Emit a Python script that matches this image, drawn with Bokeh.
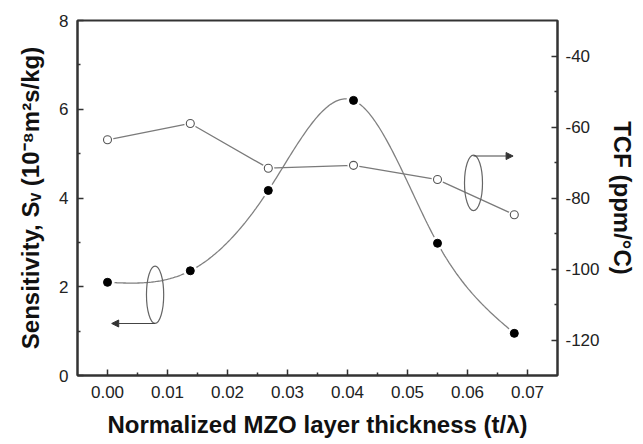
import numpy as np
from bokeh.plotting import figure
from bokeh.models import (Range1d, LinearAxis, FixedTicker, PrintfTickFormatter,
                          Arrow, NormalHead)
from bokeh.embed import file_html
from bokeh.resources import INLINE

# ---- data ----
thickness = [0.0, 0.0138, 0.0268, 0.041, 0.055, 0.0678]          # t/lambda
sensitivity = [2.10, 2.36, 4.17, 6.20, 2.98, 0.95]               # 1e-8 m^2 s/kg (left axis)
tcf = [-63.6, -59.0, -71.6, -70.8, -74.8, -84.7]                 # ppm/°C (right axis)

x_ticks = [0.0, 0.01, 0.02, 0.03, 0.04, 0.05, 0.06, 0.07]
x_minor = [0.005, 0.015, 0.025, 0.035, 0.045, 0.055, 0.065]
y_ticks = [0, 2, 4, 6, 8]
y_minor = [1, 3, 5, 7]
tcf_ticks = [-120, -100, -80, -60, -40]
tcf_minor = [-110, -90, -70, -50]

# annotation (axis-pointer ellipses and arrows), in left-axis data units
ell_left = dict(x=0.00793, y=1.82, w=0.00287, h=1.29)
ell_right = dict(x=0.0610, y=4.34, w=0.00300, h=1.25)
arrow_left = dict(x0=0.00793, x1=0.00070, y=1.172)
arrow_right = dict(x0=0.0610, x1=0.0676, y=4.946)


def natural_cubic(xs, ys, num=300):
    xs = np.asarray(xs, float)
    ys = np.asarray(ys, float)
    n = len(xs)
    h = np.diff(xs)
    A = np.zeros((n, n))
    b = np.zeros(n)
    A[0, 0] = 1.0
    A[-1, -1] = 1.0
    for i in range(1, n - 1):
        A[i, i - 1] = h[i - 1]
        A[i, i] = 2 * (h[i - 1] + h[i])
        A[i, i + 1] = h[i]
        b[i] = 6 * ((ys[i + 1] - ys[i]) / h[i] - (ys[i] - ys[i - 1]) / h[i - 1])
    M = np.linalg.solve(A, b)
    xx = np.linspace(xs[0], xs[-1], num)
    idx = np.clip(np.searchsorted(xs, xx) - 1, 0, n - 2)
    x0 = xs[idx]
    x1 = xs[idx + 1]
    hh = x1 - x0
    t1 = x1 - xx
    t0 = xx - x0
    yy = (M[idx] * t1 ** 3 / (6 * hh) + M[idx + 1] * t0 ** 3 / (6 * hh)
          + (ys[idx] / hh - M[idx] * hh / 6) * t1
          + (ys[idx + 1] / hh - M[idx + 1] * hh / 6) * t0)
    return xx, yy


FONT = "Liberation Sans"
AX = "#333333"

p = figure(width=643, height=444, output_backend="svg", toolbar_location=None,
           x_range=Range1d(-0.005, 0.075), y_range=Range1d(0, 8),
           min_border_left=77, min_border_right=86, min_border_top=20,
           min_border_bottom=69)
p.extra_y_ranges = {"tcf": Range1d(-130, -30)}
p.xgrid.visible = False
p.ygrid.visible = False
p.outline_line_color = AX
p.outline_line_width = 2
p.background_fill_color = "white"
p.border_fill_color = "white"

right = LinearAxis(y_range_name="tcf")
p.add_layout(right, "right")

p.xaxis.ticker = FixedTicker(ticks=x_ticks, minor_ticks=x_minor)
p.xaxis.formatter = PrintfTickFormatter(format="%.2f")
p.yaxis[0].ticker = FixedTicker(ticks=y_ticks, minor_ticks=y_minor)
p.yaxis[0].formatter = PrintfTickFormatter(format="%d")
right.ticker = FixedTicker(ticks=tcf_ticks, minor_ticks=tcf_minor)
right.formatter = PrintfTickFormatter(format="%d")

for ax in [p.xaxis[0], p.yaxis[0], right]:
    ax.axis_line_color = AX
    ax.axis_line_width = 2
    ax.major_tick_line_color = AX
    ax.minor_tick_line_color = AX
    ax.major_tick_line_width = 1.5
    ax.minor_tick_line_width = 1.5
    ax.major_tick_in = 6
    ax.major_tick_out = 0
    ax.minor_tick_in = 3
    ax.minor_tick_out = 0
    ax.major_label_text_font = FONT
    ax.major_label_text_font_size = "17px"
    ax.major_label_text_color = "#222222"
    ax.axis_label_text_font = FONT
    ax.axis_label_text_font_style = "bold"
    ax.axis_label_text_font_size = "24px"
    ax.axis_label_text_color = "#111111"

p.xaxis.axis_label = "Normalized MZO layer thickness (t/λ)"
p.xaxis.major_label_standoff = 10
p.xaxis.axis_label_standoff = 10
p.yaxis[0].axis_label = "Sensitivity, Sᵥ (10⁻⁸m²s/kg)"
p.yaxis[0].major_label_standoff = 9
p.yaxis[0].axis_label_standoff = 12
right.axis_label = "TCF (ppm/°C)"
right.major_label_standoff = 8
right.axis_label_standoff = 6

# smooth curve for sensitivity
cx, cy = natural_cubic(thickness, sensitivity)
p.line(cx, cy, line_color="#808080", line_width=1.3)
# straight segments for TCF
p.line(thickness, tcf, y_range_name="tcf", line_color="#7a7a7a", line_width=1.3)

# white halos (Origin-style gaps around markers)
p.scatter(thickness, sensitivity, size=14, fill_color="white", line_color=None)
p.scatter(thickness, tcf, y_range_name="tcf", size=12, fill_color="white", line_color=None)

p.scatter(thickness, sensitivity, size=8, fill_color="black", line_color="black")
p.scatter(thickness, tcf, y_range_name="tcf", size=8, fill_color="white",
          line_color="#555555", line_width=1.1)

# axis pointer ellipses and arrows
for e in (ell_left, ell_right):
    p.ellipse(x=[e["x"]], y=[e["y"]], width=[e["w"]], height=[e["h"]],
              fill_color=None, line_color="#666666", line_width=1.2)
for a in (arrow_left, arrow_right):
    p.add_layout(Arrow(end=NormalHead(size=7, fill_color="#333333", line_color="#333333"),
                       x_start=a["x0"], y_start=a["y"], x_end=a["x1"], y_end=a["y"],
                       line_color="#444444", line_width=1.2))

open("out.html", "w").write(file_html(p, INLINE))
